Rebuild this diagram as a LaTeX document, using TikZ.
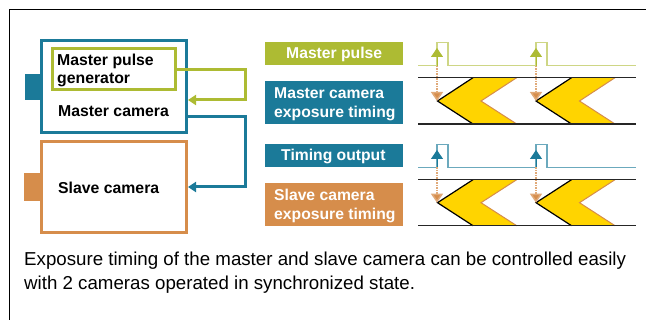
\documentclass[tikz,border=0pt]{standalone}
\usepackage{fontspec}
\setmainfont{Liberation Sans}
\usetikzlibrary{arrows.meta}
\definecolor{tealc}{HTML}{1B7A99}
\definecolor{olivec}{HTML}{ADBB33}
\definecolor{orangec}{HTML}{D68D4B}
\definecolor{yellowc}{HTML}{FFD400}
\tikzset{
	bodybox/.style={shape=rectangle,draw=#1,line width=3pt,inner sep=0pt,fill=white},
	lensbox/.style={shape=rectangle,fill=#1,inner sep=0pt},
	boldtext/.style={font=\fontsize{15.8}{17.5}\selectfont\bfseries,align=left,inner sep=0pt,anchor=base west},
	lblbox/.style={shape=rectangle,fill=#1,inner sep=0pt,minimum width=138pt},
	lbltext/.style={text=white,font=\fontsize{15.7}{18.6}\selectfont\bfseries,inner sep=0pt,anchor=base west},
	link/.style={draw=#1,line width=3pt,-{Triangle[length=8pt,width=10pt]}},
	wave/.style={draw=#1,line width=1.5pt},
	uptip/.style={draw=#1,line width=1pt,-{Triangle[length=9pt,width=12pt,fill=#1]}},
	downtip/.style={draw=orangec!75,line width=1.5pt,densely dotted,-{Triangle[length=9pt,width=12pt,fill=orangec]}},
	rail/.style={draw=black!85,line width=1.5pt},
}
\begin{document}
\begin{tikzpicture}[x=1pt,y=-1pt]
	\useasboundingbox (0,0) rectangle (646,320);
	%% frame
	\draw[line width=1pt] (646,9.5) -- (9.5,9.5) -- (9.5,320);
	%% cameras
	\node[lensbox=tealc,minimum width=16pt,minimum height=26pt] (mlens) at (33,87) {};
	\node[lensbox=orangec,minimum width=17.5pt,minimum height=28.5pt] (slens) at (32.25,187.25) {};
	\node[bodybox=tealc,minimum width=145pt,minimum height=91.5pt] (mcam) at (114,86.75) {};
	\node[bodybox=olivec,minimum width=122.5pt,minimum height=41.5pt] (gen) at (113.75,69.25) {};
	\node[bodybox=orangec,minimum width=145pt,minimum height=91pt] (scam) at (114,187) {};
	\node[boldtext] (gentext) at (57,83.5) {Master pulse\\generator};
	\node[boldtext] (mtext) at (58,116.5) {Master camera};
	\node[boldtext] (stext) at (58,193.5) {Slave camera};
	%% links
	\coordinate (mout) at (188,117);
	\coordinate (min) at (188,100);
	\coordinate (sin) at (188,187);
	\draw[link=olivec] (gen.east) -| (245,100) -- (min);
	\draw[link=tealc] (mout) -| (245,187) -- (sin);
	%% labels
	\node[lblbox=olivec,minimum height=23pt] (lpulse) at (334,53.5) {};
	\node[lbltext] (lpulset) at (286,59) {Master pulse};
	\node[lblbox=tealc,minimum height=43pt] (lmexp) at (334,102.5) {};
	\node[lbltext] (lmexpa) at (274,99) {Master camera};
	\node[lbltext] (lmexpb) at (274,117.5) {exposure timing};
	\node[lblbox=tealc,minimum height=23pt] (ltime) at (334,155.5) {};
	\node[lbltext] (ltimet) at (281,161) {Timing output};
	\node[lblbox=orangec,minimum height=43pt] (lsexp) at (334,204.5) {};
	\node[lbltext] (lsexpa) at (274,201) {Slave camera};
	\node[lbltext] (lsexpb) at (274,219.5) {exposure timing};
	%% master pulse wave
	\coordinate (a1) at (437,65.7);
	\coordinate (a1t) at (437,48);
	\coordinate (a2) at (536,65.7);
	\coordinate (a2t) at (536,48);
	\draw[wave=olivec!60] (418,65.7) -- (437,65.7) -- (437,42.7) -- (448,42.7) -- (448,65.7) -- (536,65.7) -- (536,42.7) -- (547,42.7) -- (547,65.7) -- (636,65.7);
	\draw[uptip=olivec] (a1) -- (a1t);
	\draw[uptip=olivec] (a2) -- (a2t);
	%% master exposure
	\fill[yellowc] (437.5,101) -- (473,77.7) -- (516.7,77.7) -- (481,101) -- (516.7,124) -- (473,124) -- cycle;
	\fill[yellowc] (536,101) -- (571.5,77.7) -- (615,77.7) -- (579.5,101) -- (615,124) -- (571.5,124) -- cycle;
	\draw[orangec,line width=1pt] (516.7,77.7) -- (481,101) -- (516.7,124);
	\draw[orangec,line width=1pt] (615,77.7) -- (579.5,101) -- (615,124);
	\draw[line width=1.2pt] (473,77.7) -- (437.5,101) -- (473,124);
	\draw[line width=1.2pt] (571.5,77.7) -- (536,101) -- (571.5,124);
	\draw[rail] (418,77.7) -- (636,77.7);
	\draw[rail] (418,124) -- (636,124);
	\coordinate (b1) at (437,101);
	\coordinate (b2) at (536,101);
	\draw[downtip] (a1) -- (b1);
	\draw[downtip] (a2) -- (b2);
	%% timing output wave
	\coordinate (c1) at (437,167.3);
	\coordinate (c1t) at (437,150);
	\coordinate (c2) at (536,167.3);
	\coordinate (c2t) at (536,150);
	\draw[wave=tealc!65] (418,167.3) -- (437,167.3) -- (437,144.3) -- (448,144.3) -- (448,167.3) -- (536,167.3) -- (536,144.3) -- (547,144.3) -- (547,167.3) -- (636,167.3);
	\draw[uptip=tealc] (c1) -- (c1t);
	\draw[uptip=tealc] (c2) -- (c2t);
	%% slave exposure
	\fill[yellowc] (437.5,202.7) -- (473,179.7) -- (516.7,179.7) -- (481,202.7) -- (516.7,225.7) -- (473,225.7) -- cycle;
	\fill[yellowc] (536,202.7) -- (571.5,179.7) -- (615,179.7) -- (579.5,202.7) -- (615,225.7) -- (571.5,225.7) -- cycle;
	\draw[orangec,line width=1pt] (516.7,179.7) -- (481,202.7) -- (516.7,225.7);
	\draw[orangec,line width=1pt] (615,179.7) -- (579.5,202.7) -- (615,225.7);
	\draw[line width=1.2pt] (473,179.7) -- (437.5,202.7) -- (473,225.7);
	\draw[line width=1.2pt] (571.5,179.7) -- (536,202.7) -- (571.5,225.7);
	\draw[rail] (418,179.7) -- (636,179.7);
	\draw[rail] (418,225.7) -- (636,225.7);
	\coordinate (d1) at (437,202.7);
	\coordinate (d2) at (536,202.7);
	\draw[downtip] (c1) -- (d1);
	\draw[downtip] (c2) -- (d2);
	%% caption
	\node[font=\fontsize{18.7}{24.7}\selectfont,align=left,inner sep=0pt,anchor=base west] (caption) at (24,290) {Exposure timing of the master and slave camera can be controlled easily\\with 2 cameras operated in synchronized state.};
\end{tikzpicture}
\end{document}
